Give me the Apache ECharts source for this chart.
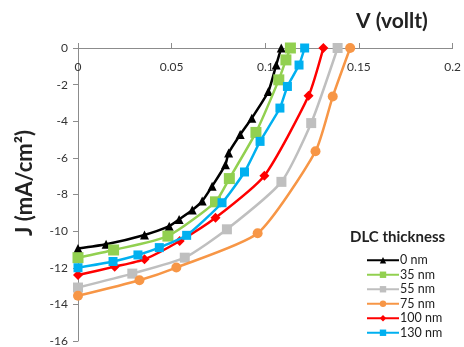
<!DOCTYPE html>
<html>
<head>
<meta charset="utf-8">
<script src="https://cdn.jsdelivr.net/npm/echarts@6/dist/echarts.min.js"></script>
<style>
  html, body { margin: 0; padding: 0; background: #fff; }
  #box { width: 464px; height: 347px; }
</style>
</head>
<body>
<div id="box"></div>
<script>
// DLC thickness curves, [V, J] pairs
var names = ['0 nm', '35 nm', '55 nm', '75 nm', '100 nm', '130 nm'];
var nm0 = [[0, -10.95], [0.015, -10.72], [0.0355, -10.21], [0.0487, -9.73], [0.054, -9.36], [0.061, -8.85],
    [0.0663, -8.36], [0.0716, -7.55], [0.0787, -6.37], [0.0804, -5.73], [0.0866, -4.73], [0.0928, -3.83],
    [0.1016, -2.38], [0.1058, -0.93], [0.1085, 0]];
var nm35 = [[0, -11.45], [0.019, -11.03], [0.048, -10.27], [0.0734, -8.4], [0.0808, -7.13], [0.095, -4.61],
    [0.1072, -1.74], [0.111, -0.65], [0.1134, 0]];
var nm55 = [[0, -13.08], [0.029, -12.32], [0.057, -11.45], [0.0795, -9.9], [0.1086, -7.31], [0.1245, -4.1], [0.1386, 0]];
var nm75 = [[0, -13.53], [0.0328, -12.68], [0.0525, -11.99], [0.0959, -10.12], [0.1268, -5.64], [0.136, -2.65], [0.1453, 0]];
var nm100 = [[0, -12.4], [0.0196, -11.94], [0.0355, -11.54], [0.0543, -10.54], [0.0734, -9.27], [0.0995, -6.97],
    [0.1231, -2.61], [0.131, 0]];
var nm130 = [[0, -12], [0.0187, -11.66], [0.032, -11.3], [0.0434, -10.9], [0.058, -10.23], [0.0769, -8.45],
    [0.0889, -6.77], [0.0972, -5.1], [0.1078, -3.28], [0.1118, -2.1], [0.118, -0.93], [0.121, 0]];

var colors = ['#000000', '#92d050', '#bfbfbf', '#f79646', '#ff0000', '#00b0f0'];
var symbols = ['triangle', 'rect', 'rect', 'circle', 'diamond', 'rect'];
var sizes = [9, 11, 10, 10, 10, 9];
var allData = [nm0, nm35, nm55, nm75, nm100, nm130];

var myChart = echarts.init(document.getElementById('box'));
var font = 'Lato, "Open Sans", sans-serif';

var series = [];
for (var i = 0; i < names.length; i++) {
    series.push({
        name: names[i],
        type: 'line',
        data: allData[i],
        smooth: 0.2,
        symbol: symbols[i],
        symbolSize: sizes[i],
        showAllSymbol: true,
        lineStyle: {color: colors[i], width: 2.5},
        itemStyle: {color: colors[i]},
        z: 2 + i
    });
}

var option = {
    animation: false,
    textStyle: {fontFamily: font},
    grid: {left: 78, right: 8, top: 48, bottom: 5, containLabel: false},
    xAxis: {
        type: 'value',
        min: 0, max: 0.2, interval: 0.05,
        position: 'top',
        axisLine: {onZero: false, lineStyle: {color: '#8c8c8c'}},
        axisTick: {show: true, length: 5, lineStyle: {color: '#8c8c8c'}},
        axisLabel: {inside: true, margin: 13, color: '#333', fontSize: 12, fontFamily: font,
            formatter: function (v) { return String(+v.toFixed(2)); }},
        splitLine: {show: false}
    },
    yAxis: {
        type: 'value',
        min: -16, max: 0, interval: 2,
        axisLine: {show: true, lineStyle: {color: '#8c8c8c'}},
        axisTick: {show: true, length: 5, lineStyle: {color: '#8c8c8c'}},
        axisLabel: {color: '#333', fontSize: 12, margin: 10, fontFamily: font},
        splitLine: {show: false}
    },
    legend: {
        orient: 'vertical',
        left: 366, top: 253, height: 100,
        padding: 0,
        itemWidth: 32, itemHeight: 8, itemGap: 0,
        data: names,
        textStyle: {fontSize: 12.5, lineHeight: 14.5, color: '#222', fontFamily: font, padding: [0, 0, 0, -4]}
    },
    graphic: [
        {type: 'text', left: 356, top: 11,
            style: {text: 'V (vollt)', font: 'bold 21px ' + font, fill: '#222'}},
        {type: 'text', left: 350, top: 230,
            style: {text: 'DLC thickness', font: 'bold 15px ' + font, fill: '#222'}},
        {type: 'text', x: 14, y: 236, rotation: Math.PI / 2,
            style: {text: 'J (mA/cm²)', font: 'bold 22px ' + font, fill: '#222'}}
    ],
    series: series
};
myChart.setOption(option);
</script>
</body>
</html>
